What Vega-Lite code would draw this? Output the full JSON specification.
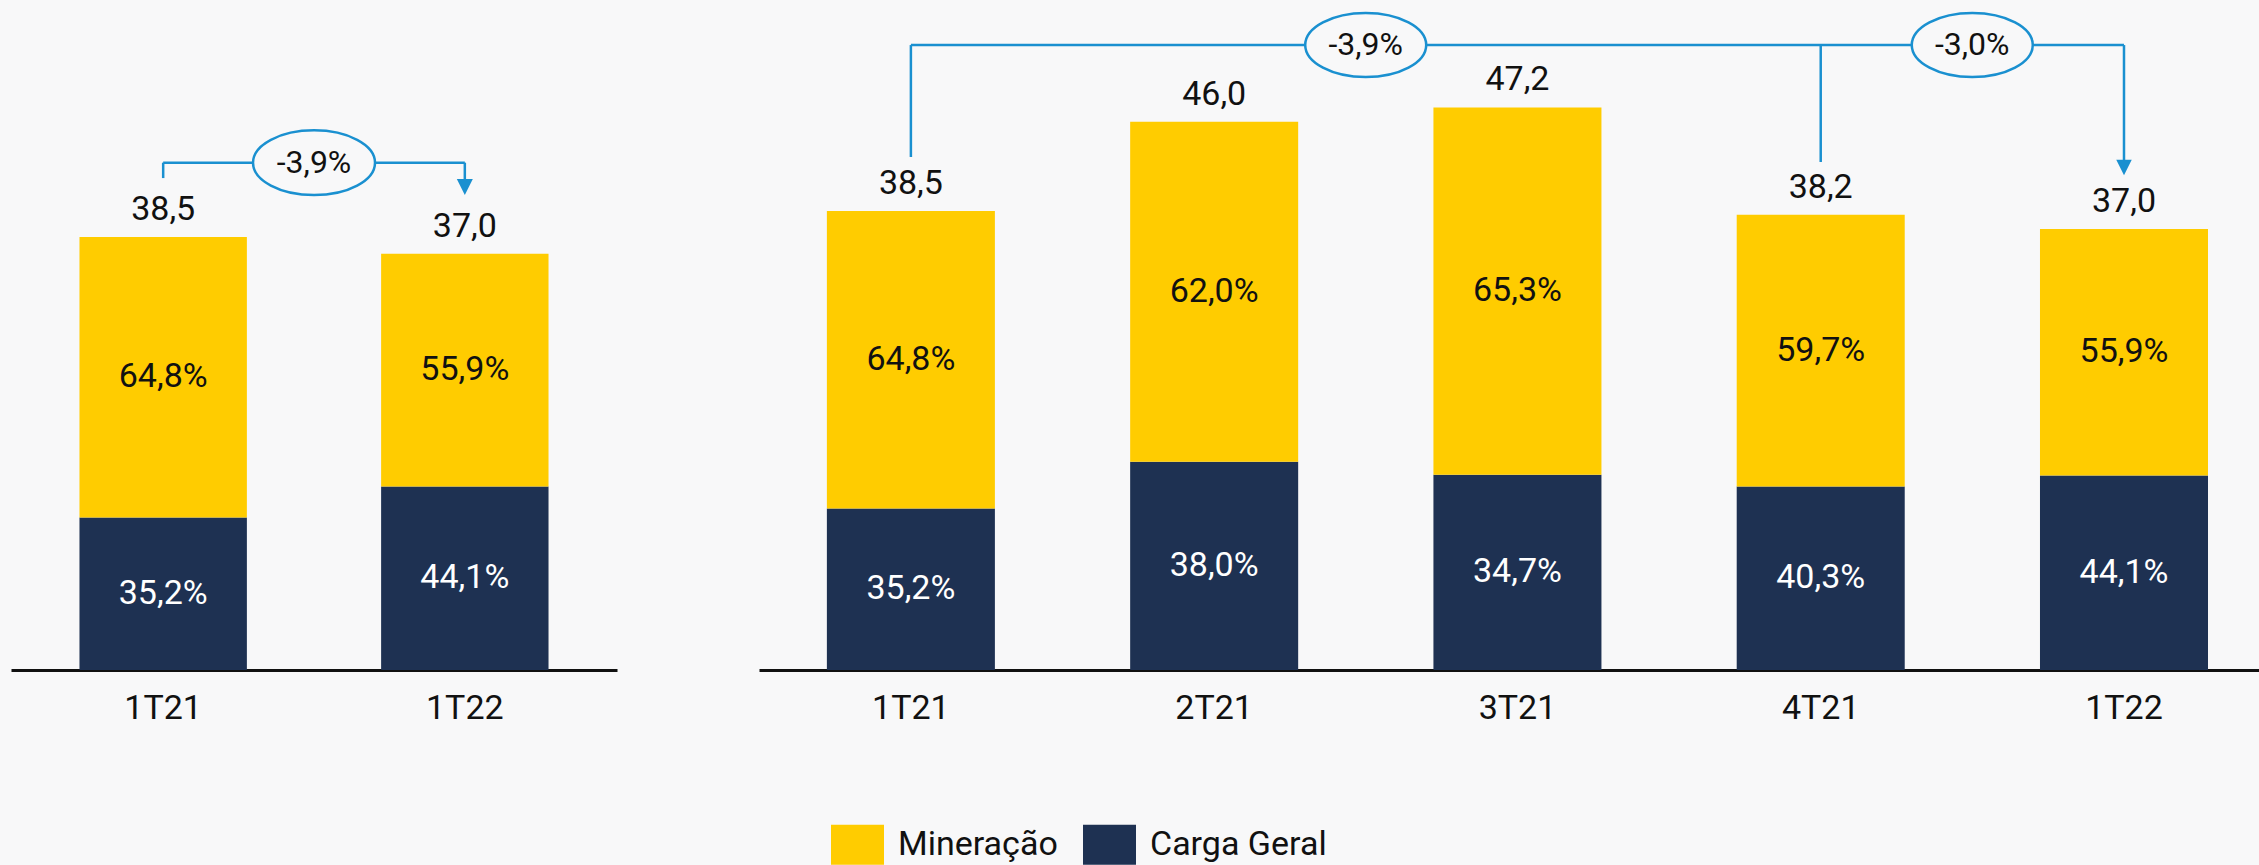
{
  "$schema": "https://vega.github.io/schema/vega-lite/v6.json",
  "background": "#F8F8F9",
  "padding": {"left": 11, "top": 0, "right": 0, "bottom": 0},
  "spacing": 142,
  "config": {
    "font": "Roboto",
    "view": {"stroke": null},
    "axisX": {
      "title": null, "labelAngle": 0, "labelFontSize": 34, "labelFont": "Roboto",
      "labelColor": "#111111", "ticks": false, "tickSize": 0, "labelPadding": 21,
      "domainColor": "#111111", "domainWidth": 3, "grid": false
    },
    "text": {"font": "Roboto", "fontSize": 34, "baseline": "middle"}
  },
  "datasets": {
    "leftBars": [
      {"quarter": "1T21", "segment": "Carga Geral", "value": 13.55, "label": "35,2%"},
      {"quarter": "1T21", "segment": "Mineração", "value": 24.95, "label": "64,8%"},
      {"quarter": "1T22", "segment": "Carga Geral", "value": 16.32, "label": "44,1%"},
      {"quarter": "1T22", "segment": "Mineração", "value": 20.68, "label": "55,9%"}
    ],
    "leftTotals": [
      {"quarter": "1T21", "total": 38.5, "label": "38,5"},
      {"quarter": "1T22", "total": 37.0, "label": "37,0"}
    ],
    "rightBars": [
      {"quarter": "1T21", "segment": "Carga Geral", "value": 13.55, "label": "35,2%"},
      {"quarter": "1T21", "segment": "Mineração", "value": 24.95, "label": "64,8%"},
      {"quarter": "2T21", "segment": "Carga Geral", "value": 17.48, "label": "38,0%"},
      {"quarter": "2T21", "segment": "Mineração", "value": 28.52, "label": "62,0%"},
      {"quarter": "3T21", "segment": "Carga Geral", "value": 16.38, "label": "34,7%"},
      {"quarter": "3T21", "segment": "Mineração", "value": 30.82, "label": "65,3%"},
      {"quarter": "4T21", "segment": "Carga Geral", "value": 15.39, "label": "40,3%"},
      {"quarter": "4T21", "segment": "Mineração", "value": 22.81, "label": "59,7%"},
      {"quarter": "1T22", "segment": "Carga Geral", "value": 16.32, "label": "44,1%"},
      {"quarter": "1T22", "segment": "Mineração", "value": 20.68, "label": "55,9%"}
    ],
    "rightTotals": [
      {"quarter": "1T21", "total": 38.5, "label": "38,5"},
      {"quarter": "2T21", "total": 46.0, "label": "46,0"},
      {"quarter": "3T21", "total": 47.2, "label": "47,2"},
      {"quarter": "4T21", "total": 38.2, "label": "38,2"},
      {"quarter": "1T22", "total": 37.0, "label": "37,0"}
    ]
  },
  "resolve": {"scale": {"color": "shared", "x": "independent", "y": "independent"}, "legend": {"color": "shared"}},
  "hconcat": [
    {
      "width": 606,
      "height": 670,
      "layer": [
        {
          "data": {"name": "leftBars"},
          "mark": {"type": "bar"},
          "encoding": {
            "x": {"field": "quarter", "type": "nominal", "scale": {"domain": ["1T21", "1T22"], "paddingInner": 0.445, "paddingOuter": 0.227}},
            "y": {"field": "value", "type": "quantitative", "stack": "zero", "scale": {"domain": [0, 59.56], "nice": false, "zero": true}, "axis": null},
            "color": {
              "field": "segment", "type": "nominal",
              "scale": {"domain": ["Mineração", "Carga Geral"], "range": ["#FFCC00", "#1E3152"]},
              "legend": {"orient": "none", "legendX": 820, "legendY": 818, "direction": "horizontal", "title": null,
                "symbolType": "M-1,-0.755H1V0.755H-1Z", "symbolSize": 2809, "symbolStrokeWidth": 0, "symbolOpacity": 1,
                "labelFontSize": 34, "labelFont": "Roboto", "labelColor": "#111111", "labelLimit": 500,
                "labelOffset": 14, "columnPadding": 25, "padding": 0}
            },
            "order": {"field": "segment", "sort": "ascending"}
          }
        },
        {
          "data": {"name": "leftBars"},
          "mark": {"type": "text"},
          "encoding": {
            "x": {"field": "quarter", "type": "nominal"},
            "y": {"field": "value", "type": "quantitative", "stack": "zero", "bandPosition": 0.5},
            "detail": {"field": "segment"},
            "order": {"field": "segment", "sort": "ascending"},
            "text": {"field": "label"},
            "color": {"condition": {"test": "datum.segment === 'Carga Geral'", "value": "#FFFFFF"}, "value": "#111111"}
          }
        },
        {
          "data": {"name": "leftTotals"},
          "mark": {"type": "text", "dy": -27, "color": "#111111"},
          "encoding": {
            "x": {"field": "quarter", "type": "nominal"},
            "y": {"field": "total", "type": "quantitative"},
            "text": {"field": "label"}
          }
        },
        {
          "data": {"values": [{"quarter": "1T21", "level": 45.1}, {"quarter": "1T22", "level": 45.1}]},
          "mark": {"type": "line", "color": "#1A90D0", "strokeWidth": 2.5},
          "encoding": {
            "x": {"field": "quarter", "type": "nominal"},
            "y": {"field": "level", "type": "quantitative"}
          }
        },
        {
          "data": {"values": [{"quarter": "1T21", "from": 43.73, "to": 45.1}, {"quarter": "1T22", "from": 42.93, "to": 45.1}]},
          "mark": {"type": "rule", "color": "#1A90D0", "strokeWidth": 2.5},
          "encoding": {
            "x": {"field": "quarter", "type": "nominal"},
            "y": {"field": "from", "type": "quantitative"},
            "y2": {"field": "to"}
          }
        },
        {
          "data": {"values": [{"quarter": "1T22", "tip": 42.93}]},
          "mark": {"type": "point", "shape": "M-1,-1L1,-1L0,1Z", "filled": true, "color": "#1A90D0", "size": 256, "strokeWidth": 0, "opacity": 1},
          "encoding": {
            "x": {"field": "quarter", "type": "nominal"},
            "y": {"field": "tip", "type": "quantitative"}
          }
        },
        {
          "data": {"values": [{"quarter": "1T21", "level": 45.1, "label": "-3,9%"}]},
          "mark": {"type": "point", "shape": "M-1,0A1,0.53,0,1,0,1,0A1,0.53,0,1,0,-1,0Z", "filled": true, "fill": "#F8F8F9", "stroke": "#1A90D0", "strokeWidth": 2.5, "size": 14884, "opacity": 1},
          "encoding": {
            "x": {"field": "quarter", "type": "nominal", "bandPosition": 1.401},
            "y": {"field": "level", "type": "quantitative"}
          }
        },
        {
          "data": {"values": [{"quarter": "1T21", "level": 45.1, "label": "-3,9%"}]},
          "mark": {"type": "text", "fontSize": 32, "color": "#111111"},
          "encoding": {
            "x": {"field": "quarter", "type": "nominal", "bandPosition": 1.401},
            "y": {"field": "level", "type": "quantitative"},
            "text": {"field": "label"}
          }
        }
      ]
    },
    {
      "width": 1500,
      "height": 670,
      "layer": [
        {
          "data": {"name": "rightBars"},
          "mark": {"type": "bar"},
          "encoding": {
            "x": {"field": "quarter", "type": "nominal", "scale": {"domain": ["1T21", "2T21", "3T21", "4T21", "1T22"], "paddingInner": 0.446, "paddingOuter": 0.196, "align": 0.571}},
            "y": {"field": "value", "type": "quantitative", "stack": "zero", "scale": {"domain": [0, 56.21], "nice": false, "zero": true}, "axis": null},
            "color": {
              "field": "segment", "type": "nominal",
              "scale": {"domain": ["Mineração", "Carga Geral"], "range": ["#FFCC00", "#1E3152"]},
              "legend": {"orient": "none", "legendX": 820, "legendY": 818, "direction": "horizontal", "title": null,
                "symbolType": "M-1,-0.755H1V0.755H-1Z", "symbolSize": 2809, "symbolStrokeWidth": 0, "symbolOpacity": 1,
                "labelFontSize": 34, "labelFont": "Roboto", "labelColor": "#111111", "labelLimit": 500,
                "labelOffset": 14, "columnPadding": 25, "padding": 0}
            },
            "order": {"field": "segment", "sort": "ascending"}
          }
        },
        {
          "data": {"name": "rightBars"},
          "mark": {"type": "text"},
          "encoding": {
            "x": {"field": "quarter", "type": "nominal"},
            "y": {"field": "value", "type": "quantitative", "stack": "zero", "bandPosition": 0.5},
            "detail": {"field": "segment"},
            "order": {"field": "segment", "sort": "ascending"},
            "text": {"field": "label"},
            "color": {"condition": {"test": "datum.segment === 'Carga Geral'", "value": "#FFFFFF"}, "value": "#111111"}
          }
        },
        {
          "data": {"name": "rightTotals"},
          "mark": {"type": "text", "dy": -27, "color": "#111111"},
          "encoding": {
            "x": {"field": "quarter", "type": "nominal"},
            "y": {"field": "total", "type": "quantitative"},
            "text": {"field": "label"}
          }
        },
        {
          "data": {"values": [{"quarter": "1T21", "level": 52.43}, {"quarter": "1T22", "level": 52.43}]},
          "mark": {"type": "line", "color": "#1A90D0", "strokeWidth": 2.5},
          "encoding": {
            "x": {"field": "quarter", "type": "nominal"},
            "y": {"field": "level", "type": "quantitative"}
          }
        },
        {
          "data": {"values": [
            {"quarter": "1T21", "from": 43.04, "to": 52.43},
            {"quarter": "4T21", "from": 42.62, "to": 52.43},
            {"quarter": "1T22", "from": 42.16, "to": 52.43}
          ]},
          "mark": {"type": "rule", "color": "#1A90D0", "strokeWidth": 2.5},
          "encoding": {
            "x": {"field": "quarter", "type": "nominal"},
            "y": {"field": "from", "type": "quantitative"},
            "y2": {"field": "to"}
          }
        },
        {
          "data": {"values": [{"quarter": "1T22", "tip": 42.16}]},
          "mark": {"type": "point", "shape": "M-1,-1L1,-1L0,1Z", "filled": true, "color": "#1A90D0", "size": 240, "strokeWidth": 0, "opacity": 1},
          "encoding": {
            "x": {"field": "quarter", "type": "nominal"},
            "y": {"field": "tip", "type": "quantitative"}
          }
        },
        {
          "data": {"values": [{"quarter": "2T21", "level": 52.43, "label": "-3,9%"}, {"quarter": "4T21", "level": 52.43, "label": "-3,0%"}]},
          "mark": {"type": "point", "shape": "M-1,0A1,0.53,0,1,0,1,0A1,0.53,0,1,0,-1,0Z", "filled": true, "fill": "#F8F8F9", "stroke": "#1A90D0", "strokeWidth": 2.5, "size": 14641, "opacity": 1},
          "encoding": {
            "x": {"field": "quarter", "type": "nominal", "bandPosition": 1.402},
            "y": {"field": "level", "type": "quantitative"}
          }
        },
        {
          "data": {"values": [{"quarter": "2T21", "level": 52.43, "label": "-3,9%"}, {"quarter": "4T21", "level": 52.43, "label": "-3,0%"}]},
          "mark": {"type": "text", "fontSize": 32, "color": "#111111"},
          "encoding": {
            "x": {"field": "quarter", "type": "nominal", "bandPosition": 1.402},
            "y": {"field": "level", "type": "quantitative"},
            "text": {"field": "label"}
          }
        }
      ]
    }
  ]
}
